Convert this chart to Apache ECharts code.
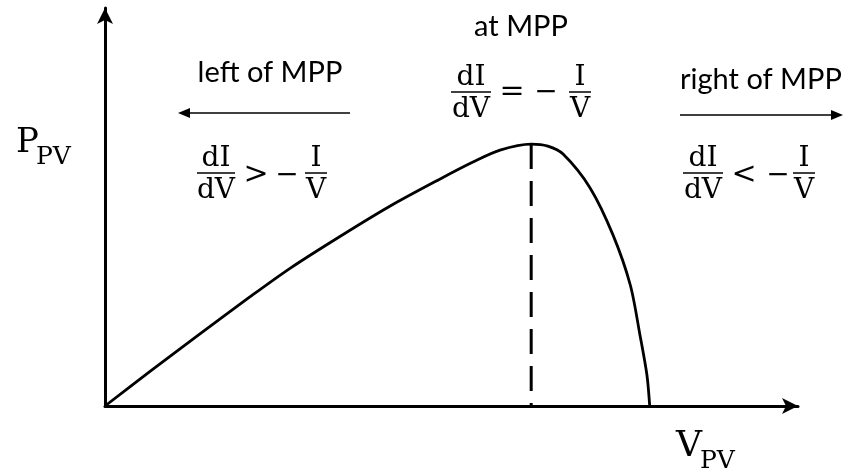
<!DOCTYPE html>
<html>
<head>
<meta charset="utf-8">
<title>P-V curve MPP</title>
<script src="https://cdn.jsdelivr.net/npm/echarts@6/dist/echarts.min.js"></script>
<style>
  html, body { margin: 0; padding: 0; background: #fff; }
  #chart { width: 844px; height: 472px; }
</style>
</head>
<body>
<div id="chart"></div>
<script>
// PV curve (V and P in axis units 0..100)
var vpv = [0, 6.5, 13.7, 20.9, 26.7, 33.9, 41.1, 48.3, 53.1, 57.0, 61.5, 63.9, 66.1, 70.0, 73.3, 75.8, 77.2, 78.2, 78.6];
var ppv = [0, 8.7, 18.1, 27.4, 34.6, 42.6, 50.2, 57.0, 61.3, 64.3, 65.8, 65.3, 63.3, 54.8, 43.0, 30.4, 17.8, 7.8, 0];
var mppV = 61.5;
var mppP = 65.8;

var curve = vpv.map(function (v, i) { return [v, ppv[i]]; });

var serif = '"DejaVu Serif", serif';
var sans = 'Lato, "Open Sans", sans-serif';

function txt(x, y, s, size, font, align) {
  return {
    type: 'text', x: x, y: y,
    style: { text: s, fill: '#000', font: size + 'px ' + font, align: align || 'center', verticalAlign: 'middle' }
  };
}

// a stacked fraction: numerator, bar, denominator
function frac(cx, ly, num, den, w) {
  return [
    txt(cx, ly - 14, num, 28, serif),
    { type: 'line', shape: { x1: cx - w / 2, y1: ly, x2: cx + w / 2, y2: ly }, style: { stroke: '#000', lineWidth: 1.5 } },
    txt(cx, ly + 18, den, 28, serif)
  ];
}

function arrow(x1, x2, y) {
  var dir = x2 > x1 ? 1 : -1;
  return [
    { type: 'line', shape: { x1: x1, y1: y, x2: x2 - dir * 8, y2: y }, style: { stroke: '#000', lineWidth: 1.5 } },
    { type: 'polygon', shape: { points: [[x2, y], [x2 - dir * 12, y - 5], [x2 - dir * 12, y + 5]] }, style: { fill: '#000' } }
  ];
}

var graphics = [].concat(
  txt(270, 73, 'left of MPP', 29, sans),
  arrow(350, 178, 113),
  frac(216, 173, 'dI', 'dV', 38),
  txt(256, 175, '>', 30, serif),
  txt(287, 176, '−', 28, serif),
  frac(316, 173, 'I', 'V', 22),

  txt(521, 27, 'at MPP', 29, sans),
  frac(471, 92, 'dI', 'dV', 40),
  txt(512, 92, '=', 30, serif),
  txt(546, 93, '−', 28, serif),
  frac(580, 92, 'I', 'V', 22),

  txt(680, 80, 'right of MPP', 29, sans, 'left'),
  arrow(680, 843, 115),
  frac(703, 173, 'dI', 'dV', 40),
  txt(744, 175, '<', 30, serif),
  txt(778, 176, '−', 28, serif),
  frac(804, 173, 'I', 'V', 22),

  txt(16, 143, 'P', 34, serif, 'left'),
  txt(36, 157, 'PV', 25, serif, 'left'),
  txt(676, 447, 'V', 36, serif, 'left'),
  txt(700, 461, 'PV', 25, serif, 'left')
);

var chart = echarts.init(document.getElementById('chart'));
chart.setOption({
  animation: false,
  grid: { left: 105, right: 46, top: 8, bottom: 66 },
  xAxis: {
    type: 'value', min: 0, max: 100,
    axisLine: { lineStyle: { color: '#000', width: 3 }, symbol: ['none', 'arrow'], symbolSize: [12, 16] },
    axisTick: { show: false }, axisLabel: { show: false }, splitLine: { show: false }
  },
  yAxis: {
    type: 'value', min: 0, max: 100,
    axisLine: { show: true, lineStyle: { color: '#000', width: 3 }, symbol: ['none', 'arrow'], symbolSize: [12, 16] },
    axisTick: { show: false }, axisLabel: { show: false }, splitLine: { show: false }
  },
  series: [
    {
      type: 'line', data: curve, smooth: 0.3, showSymbol: false,
      lineStyle: { color: '#000', width: 2.8 }
    },
    {
      type: 'line', data: [[mppV, mppP], [mppV, 0]], showSymbol: false,
      lineStyle: { color: '#000', width: 3, type: [25, 12] }
    }
  ],
  graphic: graphics
});
</script>
</body>
</html>
